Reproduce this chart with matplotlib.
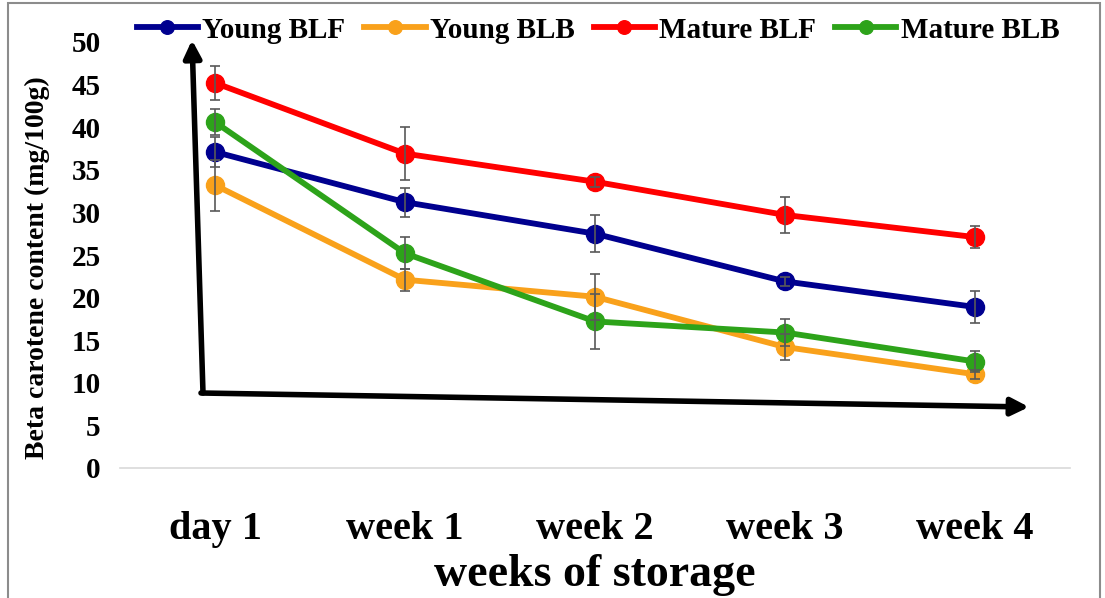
import matplotlib
matplotlib.use("Agg")
import matplotlib.pyplot as plt
from matplotlib.patches import Rectangle

# values (mg/100g)
weeks = ["day 1", "week 1", "week 2", "week 3", "week 4"]
young_blf = [37.1, 31.2, 27.5, 21.9, 18.9]
young_blb = [33.2, 22.1, 20.1, 14.2, 11.0]
mature_blf = [45.2, 36.9, 33.6, 29.7, 27.1]
mature_blb = [40.6, 25.2, 17.2, 15.9, 12.5]

# error bar half-lengths
young_blf_err = [1.8, 1.7, 2.2, 0.5, 1.9]
young_blb_err = [3.0, 1.3, 2.7, 1.5, 0.5]
mature_blf_err = [2.0, 3.1, 0.6, 2.1, 1.25]
mature_blb_err = [1.5, 1.9, 3.2, 1.6, 1.2]

W, H = 1105, 598


def fig_frac(px, py):
    """pixel position in the picture -> figure fraction"""
    return px / W, 1 - py / H


def plot_chart():
    plt.rcParams["font.family"] = ["Liberation Serif", "DejaVu Serif"]
    plt.rcParams["font.weight"] = "bold"
    plt.rcParams["axes.labelweight"] = "bold"

    fig = plt.figure(figsize=(W / 100, H / 100), dpi=100)
    ax = fig.add_axes([120 / W, 1 - 468 / H, 950 / W, 426 / H])

    series = [
        ("Young BLF", young_blf, young_blf_err, "#00008F"),
        ("Young BLB", young_blb, young_blb_err, "#F9A11B"),
        ("Mature BLF", mature_blf, mature_blf_err, "#FF0000"),
        ("Mature BLB", mature_blb, mature_blb_err, "#2DA31A"),
    ]
    x = list(range(len(weeks)))
    for name, vals, errs, color in series:
        ax.plot(x, vals, color=color, lw=4.2, marker="o", ms=13, label=name, zorder=3)
        ax.errorbar(x, vals, yerr=errs, fmt="none", ecolor="#595959",
                    elinewidth=1.2, capsize=3.5, capthick=1.2, zorder=4)

    ax.set_xlim(-0.5, 4.5)
    ax.set_ylim(0, 50)
    ax.set_yticks(range(0, 51, 5))
    ax.set_xticks(x)
    ax.set_xticklabels(weeks, fontsize=29)
    ax.tick_params(axis="y", labelsize=21, length=0, pad=14)
    ax.tick_params(axis="x", length=0, pad=31)
    for side in ["top", "right", "left"]:
        ax.spines[side].set_visible(False)
    ax.spines["bottom"].set_color("#d9d9d9")
    ax.spines["bottom"].set_linewidth(1.2)

    ax.set_xlabel("weeks of storage", fontsize=33, labelpad=4)
    ax.set_ylabel("Beta carotene content (mg/100g)", fontsize=20)
    ax.yaxis.set_label_coords(-0.074, 0.47)

    fig.legend(loc="center", bbox_to_anchor=fig_frac(598, 30), ncol=4, frameon=False,
               fontsize=21, handlelength=2.1, handletextpad=0.15, columnspacing=0.65,
               markerscale=0.75)

    # hand-drawn arrows over the plot
    arrow = dict(arrowstyle="-|>", lw=4, color="black", mutation_scale=26,
                 shrinkA=0, shrinkB=0)
    ax.annotate("", xy=fig_frac(192, 40), xytext=fig_frac(203, 393),
                xycoords="figure fraction", textcoords="figure fraction", arrowprops=arrow)
    ax.annotate("", xy=fig_frac(1029, 407), xytext=fig_frac(201, 393),
                xycoords="figure fraction", textcoords="figure fraction", arrowprops=arrow)

    # chart area border
    x0, y0 = fig_frac(8, 3)
    fig.patches.append(Rectangle((x0, -0.01), 1092 / W, y0 + 0.01, transform=fig.transFigure,
                                 fill=False, edgecolor="#8c8c8c", lw=1.5))

    fig.savefig("out.png", dpi=100)


if __name__ == "__main__":
    plot_chart()
